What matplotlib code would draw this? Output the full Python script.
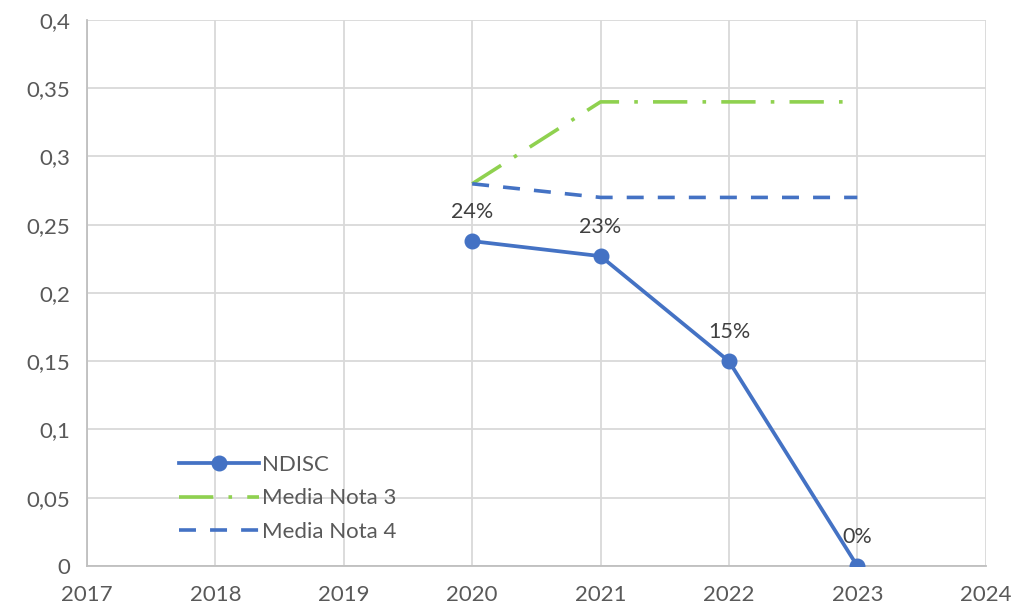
"""
NDISC compared with Media Nota 3 / Media Nota 4
"""
import matplotlib
matplotlib.use("Agg")
import matplotlib.pyplot as plt
from matplotlib.ticker import FuncFormatter

years = [2020, 2021, 2022, 2023]
ndisc = [0.238, 0.227, 0.15, 0.0]
ndisc_labels = ["24%", "23%", "15%", "0%"]
media_nota3 = [0.28, 0.34, 0.34, 0.34]
media_nota4 = [0.28, 0.27, 0.27, 0.27]

plt.rcParams["font.family"] = ["Lato", "DejaVu Sans"]

BLUE = "#4472c4"
GREEN = "#8fd14f"
GRID = "#d9d9d9"
TEXT = "#595959"


def main():
    fig = plt.figure(figsize=(10.12, 6.13), dpi=100)
    ax = fig.add_axes([0.086, 0.0767, 0.888, 0.8907])

    ax.plot(years, ndisc, color=BLUE, lw=2.7, marker="o", ms=10.5,
            label="NDISC", zorder=4)
    ax.plot(years, media_nota3, color=GREEN, lw=2.6,
            dashes=(9.5, 4.2, 1, 4.2), label="Media Nota 3", zorder=3)
    ax.plot(years, media_nota4, color=BLUE, lw=2.6,
            dashes=(4.7, 3.9), label="Media Nota 4", zorder=3)

    for x, y, txt in zip(years, ndisc, ndisc_labels):
        ax.annotate(txt, (x, y), xytext=(0, 14), textcoords="offset points",
                    ha="center", va="bottom", fontsize=15.5, color="#404040")

    ax.set_xlim(2017, 2024)
    ax.set_ylim(0, 0.4)
    ax.set_xticks(range(2017, 2025))
    ax.set_yticks([i * 0.05 for i in range(9)])
    ax.yaxis.set_major_formatter(
        FuncFormatter(lambda v, _: f"{v:.2f}".rstrip("0").rstrip(".").replace(".", ",")))

    ax.grid(True, color=GRID, lw=1.3)
    ax.set_axisbelow(True)
    for side in ("top", "right"):
        ax.spines[side].set_visible(False)
    for side in ("left", "bottom"):
        ax.spines[side].set_color("#bfbfbf")
        ax.spines[side].set_linewidth(1.3)
    ax.tick_params(length=0, labelsize=16, colors=TEXT)
    ax.tick_params(axis="x", pad=14)
    ax.tick_params(axis="y", pad=12)

    leg = ax.legend(loc="lower left", bbox_to_anchor=(0.08, 0.007),
                    frameon=False, fontsize=16, handlelength=3.6,
                    labelspacing=0.62, handletextpad=0.15)
    for t in leg.get_texts():
        t.set_color(TEXT)

    fig.savefig("out.png", dpi=100)


if __name__ == "__main__":
    main()
